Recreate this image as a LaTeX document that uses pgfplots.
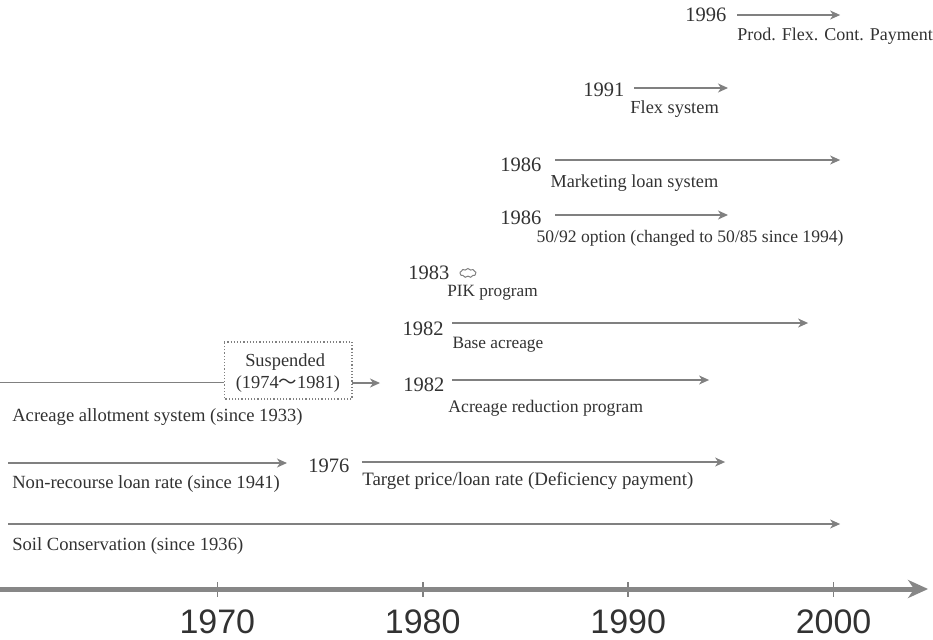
\documentclass[border=0pt]{standalone}
\usepackage{fontspec}
\setmainfont{Liberation Serif}
\newfontfamily\axisfont{Liberation Sans}
\newfontfamily\cjk{Noto Sans CJK JP}
\usepackage{pgfplots}
\pgfplotsset{compat=1.18}
\usetikzlibrary{arrows.meta,shapes.symbols}
\definecolor{ln}{RGB}{128,128,128}
\definecolor{ax}{RGB}{135,135,135}
\definecolor{txt}{RGB}{50,50,50}

\begin{document}
\begin{tikzpicture}[
  lab/.style={anchor=west, inner sep=0pt, text=txt, font=\fontsize{#1}{#1}\selectfont, text height=0.7em, text depth=0.2em},
  lab/.default=9.3,
  yr/.style={anchor=west, inner sep=0pt, text=txt, font=\fontsize{10.25}{10.25}\selectfont, text height=0.68em, text depth=0pt},
  ctr/.style={anchor=center, inner sep=0pt, text=txt, font=\fontsize{9.2}{9.2}\selectfont, text height=0.7em, text depth=0.2em},
]
\begin{axis}[
  scale only axis, width=466.5pt, height=294.5pt,
  xmin=1959.42, xmax=2004.84, ymin=50, ymax=639,
  clip=false,
  axis x line=bottom, axis y line=none,
  axis line style={draw=none},
  xtick={1970,1980,1990,2000},
  xticklabels={1970,1980,1990,2000},
  tick align=center, major tick length=7.5pt,
  tick style={ln, line width=0.8pt},
  xticklabel style={font=\axisfont\fontsize{17}{17}\selectfont, text=txt, anchor=base, inner sep=0pt, yshift=-18.5pt},
  /pgf/number format/assume math mode=true,
  arr/.style={ln, line width=0.6pt, -{Stealth[length=5pt,width=4.5pt,inset=1.5pt]}},
  seg/.style={ln, line width=0.6pt},
]
% time axis
\addplot[ax, line width=2.5pt, -{Stealth[length=10pt,width=9pt,inset=3pt]}] coordinates {(1959.42,50) (2004.60,50)};

% program arrows
\addplot[arr] coordinates {(1995.30,624) (2000.32,624)}; % Prod. Flex. Cont. Payment
\addplot[arr] coordinates {(1990.29,551) (1994.86,551)}; % Flex system
\addplot[arr] coordinates {(1986.44,479) (2000.32,479)}; % Marketing loan
\addplot[arr] coordinates {(1986.44,424) (1994.86,424)}; % 50/92 option
\addplot[arr] coordinates {(1981.43,316) (1998.76,316)}; % Base acreage
\addplot[arr] coordinates {(1981.43,259) (1993.94,259)}; % Acreage reduction
\addplot[seg] coordinates {(1959.42,256.3) (1970.33,256.3)}; % Allotment
\addplot[arr] coordinates {(1976.56,256) (1977.92,256)}; % after suspension
\addplot[arr] coordinates {(1959.81,176) (1973.39,176)}; % Non-recourse
\addplot[arr] coordinates {(1977.04,177) (1994.72,177)}; % Target price
\addplot[arr] coordinates {(1959.81,115) (2000.32,115)}; % Soil conservation
% suspended box
\addplot[ln, line width=0.6pt, densely dotted] coordinates {(1970.33,297) (1976.56,297) (1976.56,240) (1970.33,240) (1970.33,297)};

% texts
\node[yr]  at (1992.77,624) {1996};
\node[lab=9] at (1995.30,604) {Prod. Flex. Cont. Payment};
\node[yr]  at (1987.80,549) {1991};
\node[lab=9.2] at (1990.09,531) {Flex system};
\node[yr]  at (1983.76,474) {1986};
\node[lab=9.15] at (1986.20,457) {Marketing loan system};
\node[yr]  at (1983.76,421) {1986};
\node[lab=8.8] at (1985.52,402) {50/92 option (changed to 50/85 since 1994)};
\node[yr]  at (1979.28,366) {1983};
\node[cloud, cloud puffs=9, cloud puff arc=120, aspect=2.0, draw=ln, line width=0.5pt, inner sep=0pt, minimum width=8pt, minimum height=4.5pt] at (1982.20,366) {};
\node[lab=8.6] at (1981.18,348) {PIK program};
\node[yr]  at (1979.00,310) {1982};
\node[lab=8.65] at (1981.43,296) {Base acreage};
\node[yr]  at (1979.04,254) {1982};
\node[lab=8.85] at (1981.23,232) {Acreage reduction program};
\node[ctr] at (1973.30,278) {Suspended};
\node[ctr] at (1973.44,256) {(1974{\cjk 〜}1981)};
\node[lab] at (1960.00,222.5) {Acreage allotment system (since 1933)};
\node[yr]  at (1974.41,173) {1976};
\node[lab] at (1960.00,156) {Non-recourse loan rate (since 1941)};
\node[lab=9.45] at (1977.04,159) {Target price/loan rate (Deficiency payment)};
\node[lab] at (1960.00,94) {Soil Conservation (since 1936)};

\coordinate (bbSW) at (axis cs:1959.42,0);
\coordinate (bbNE) at (axis cs:2004.84,639);
\end{axis}
\pgfresetboundingbox
\path[use as bounding box] (bbSW) rectangle (bbNE);
\end{tikzpicture}
\end{document}
